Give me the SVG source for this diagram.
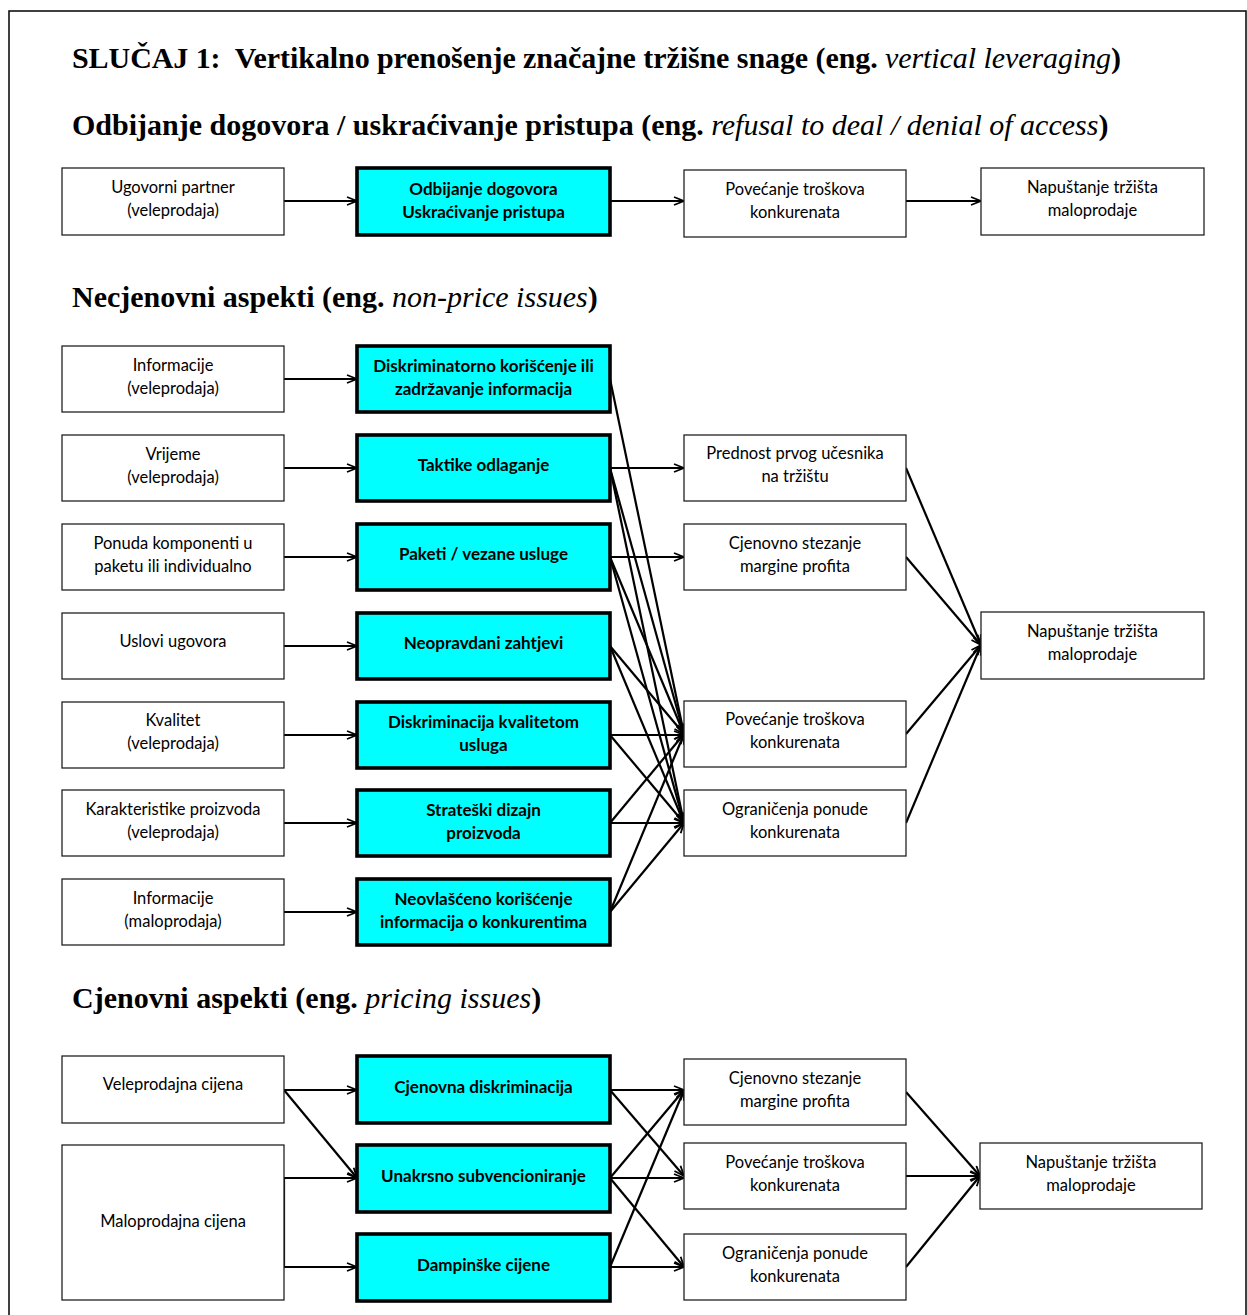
<svg xmlns="http://www.w3.org/2000/svg" width="1247" height="1315" viewBox="0 0 1247 1315">
<style>
.h{font-family:"Liberation Serif","Times New Roman",serif;font-size:30px;font-weight:bold;fill:#000}
.h .i{font-style:italic;font-weight:normal}
.b rect{fill:#fff;stroke:#222;stroke-width:1.3}
.c rect{fill:#00ffff;stroke:#000;stroke-width:3.6}
.b text{font-family:Lato,"Open Sans",sans-serif;font-size:16.5px;fill:#000;text-anchor:middle}
.c text{font-family:Lato,"Open Sans",sans-serif;font-size:17px;font-weight:bold;fill:#000;text-anchor:middle}
#connectors path{fill:none;stroke:#000;stroke-width:2.2}
</style>
<defs>
<marker id="ah" markerUnits="userSpaceOnUse" markerWidth="12" markerHeight="10" refX="11" refY="5" orient="auto" viewBox="0 0 12 10">
<path d="M1,1 L11,5 L1,9" fill="none" stroke="#000" stroke-width="1.8"/>
</marker>
</defs>
<rect x="9" y="11" width="1237" height="1330" fill="none" stroke="#111" stroke-width="1.6"/>
<g id="headings">
<text class="h" x="72" y="68" xml:space="preserve" textLength="1049" lengthAdjust="spacing">SLUČAJ 1:  Vertikalno prenošenje značajne tržišne snage (eng. <tspan class="i">vertical leveraging</tspan>)</text>
<text class="h" x="72" y="135">Odbijanje dogovora / uskraćivanje pristupa (eng. <tspan class="i">refusal to deal / denial of access</tspan>)</text>
<text class="h" x="72" y="307">Necjenovni aspekti (eng. <tspan class="i">non-price issues</tspan>)</text>
<text class="h" x="72" y="1008">Cjenovni aspekti (eng. <tspan class="i">pricing issues</tspan>)</text>
</g>
<g id="connectors">
<path d="M284,201 H357" marker-end="url(#ah)"/>
<path d="M610,201 H684" marker-end="url(#ah)"/>
<path d="M906,201 H981" marker-end="url(#ah)"/>
<path d="M284,379 H357" marker-end="url(#ah)"/>
<path d="M284,468 H357" marker-end="url(#ah)"/>
<path d="M284,557 H357" marker-end="url(#ah)"/>
<path d="M284,646 H357" marker-end="url(#ah)"/>
<path d="M284,735 H357" marker-end="url(#ah)"/>
<path d="M284,823 H357" marker-end="url(#ah)"/>
<path d="M284,912 H357" marker-end="url(#ah)"/>
<path d="M610,379 L684,734" marker-end="url(#ah)"/>
<path d="M610,468 H684" marker-end="url(#ah)"/>
<path d="M610,468 L684,734" marker-end="url(#ah)"/>
<path d="M610,468 L684,823" marker-end="url(#ah)"/>
<path d="M610,557 H684" marker-end="url(#ah)"/>
<path d="M610,557 L684,734" marker-end="url(#ah)"/>
<path d="M610,557 L684,823" marker-end="url(#ah)"/>
<path d="M610,646 L684,734" marker-end="url(#ah)"/>
<path d="M610,646 L684,823" marker-end="url(#ah)"/>
<path d="M610,735 H684" marker-end="url(#ah)"/>
<path d="M610,735 L684,823" marker-end="url(#ah)"/>
<path d="M610,823 H684" marker-end="url(#ah)"/>
<path d="M610,823 L684,734" marker-end="url(#ah)"/>
<path d="M610,912 L684,734" marker-end="url(#ah)"/>
<path d="M610,912 L684,823" marker-end="url(#ah)"/>
<path d="M906,468 L981,645" marker-end="url(#ah)"/>
<path d="M906,557 L981,645" marker-end="url(#ah)"/>
<path d="M906,734 L981,645" marker-end="url(#ah)"/>
<path d="M906,823 L981,645" marker-end="url(#ah)"/>
<path d="M284,1090 H357" marker-end="url(#ah)"/>
<path d="M284,1090 L357,1178" marker-end="url(#ah)"/>
<path d="M284,1223 V1178 H357" marker-end="url(#ah)"/>
<path d="M284,1223 V1267 H357" marker-end="url(#ah)"/>
<path d="M610,1090 H684" marker-end="url(#ah)"/>
<path d="M610,1090 L684,1176" marker-end="url(#ah)"/>
<path d="M610,1178 L684,1090" marker-end="url(#ah)"/>
<path d="M610,1178 H684" marker-end="url(#ah)"/>
<path d="M610,1178 L684,1267" marker-end="url(#ah)"/>
<path d="M610,1267 L684,1090" marker-end="url(#ah)"/>
<path d="M610,1267 H684" marker-end="url(#ah)"/>
<path d="M906,1092 L980,1176" marker-end="url(#ah)"/>
<path d="M906,1176 H980" marker-end="url(#ah)"/>
<path d="M906,1267 L980,1176" marker-end="url(#ah)"/>
</g>
<g id="n_ugovorni" class="b"><rect x="62" y="168" width="222" height="67"/><text x="173" y="193">Ugovorni partner</text><text x="173" y="216">(veleprodaja)</text></g>
<g id="n_odbijanje" class="c"><rect x="357" y="168" width="253" height="67"/><text x="483.5" y="195">Odbijanje dogovora</text><text x="483.5" y="218">Uskraćivanje pristupa</text></g>
<g id="n_povecanje_1" class="b"><rect x="684" y="170" width="222" height="67"/><text x="795" y="195">Povećanje troškova</text><text x="795" y="218">konkurenata</text></g>
<g id="n_napustanje_1" class="b"><rect x="981" y="168" width="223" height="67"/><text x="1092.5" y="193">Napuštanje tržišta</text><text x="1092.5" y="216">maloprodaje</text></g>

<g id="n_informacije_v" class="b"><rect x="62" y="346" width="222" height="66"/><text x="173" y="371">Informacije</text><text x="173" y="394">(veleprodaja)</text></g>
<g id="n_vrijeme" class="b"><rect x="62" y="435" width="222" height="66"/><text x="173" y="460">Vrijeme</text><text x="173" y="483">(veleprodaja)</text></g>
<g id="n_ponuda" class="b"><rect x="62" y="524" width="222" height="66"/><text x="173" y="549">Ponuda komponenti u</text><text x="173" y="572">paketu ili individualno</text></g>
<g id="n_uslovi" class="b"><rect x="62" y="613" width="222" height="66"/><text x="173" y="647">Uslovi ugovora</text></g>
<g id="n_kvalitet" class="b"><rect x="62" y="702" width="222" height="66"/><text x="173" y="726">Kvalitet</text><text x="173" y="749">(veleprodaja)</text></g>
<g id="n_karakteristike" class="b"><rect x="62" y="790" width="222" height="66"/><text x="173" y="815">Karakteristike proizvoda</text><text x="173" y="838">(veleprodaja)</text></g>
<g id="n_informacije_m" class="b"><rect x="62" y="879" width="222" height="66"/><text x="173" y="904">Informacije</text><text x="173" y="927">(maloprodaja)</text></g>

<g id="n_diskriminatorno" class="c"><rect x="357" y="346" width="253" height="66"/><text x="483.5" y="372">Diskriminatorno korišćenje ili</text><text x="483.5" y="395">zadržavanje informacija</text></g>
<g id="n_taktike" class="c"><rect x="357" y="435" width="253" height="66"/><text x="483.5" y="471">Taktike odlaganje</text></g>
<g id="n_paketi" class="c"><rect x="357" y="524" width="253" height="66"/><text x="483.5" y="560">Paketi / vezane usluge</text></g>
<g id="n_neopravdani" class="c"><rect x="357" y="613" width="253" height="66"/><text x="483.5" y="649">Neopravdani zahtjevi</text></g>
<g id="n_diskriminacija_kv" class="c"><rect x="357" y="702" width="253" height="66"/><text x="483.5" y="728">Diskriminacija kvalitetom</text><text x="483.5" y="751">usluga</text></g>
<g id="n_strateski" class="c"><rect x="357" y="790" width="253" height="66"/><text x="483.5" y="816">Strateški dizajn</text><text x="483.5" y="839">proizvoda</text></g>
<g id="n_neovlasceno" class="c"><rect x="357" y="879" width="253" height="66"/><text x="483.5" y="905">Neovlašćeno korišćenje</text><text x="483.5" y="928">informacija o konkurentima</text></g>

<g id="n_prednost" class="b"><rect x="684" y="435" width="222" height="66"/><text x="795" y="459">Prednost prvog učesnika</text><text x="795" y="482">na tržištu</text></g>
<g id="n_cjenovno_2" class="b"><rect x="684" y="524" width="222" height="66"/><text x="795" y="549">Cjenovno stezanje</text><text x="795" y="572">margine profita</text></g>
<g id="n_povecanje_2" class="b"><rect x="684" y="701" width="222" height="66"/><text x="795" y="725">Povećanje troškova</text><text x="795" y="748">konkurenata</text></g>
<g id="n_ogranicenja_2" class="b"><rect x="684" y="790" width="222" height="66"/><text x="795" y="815">Ograničenja ponude</text><text x="795" y="838">konkurenata</text></g>
<g id="n_napustanje_2" class="b"><rect x="981" y="612" width="223" height="67"/><text x="1092.5" y="637">Napuštanje tržišta</text><text x="1092.5" y="660">maloprodaje</text></g>

<g id="n_veleprodajna" class="b"><rect x="62" y="1056" width="222" height="67"/><text x="173" y="1090">Veleprodajna cijena</text></g>
<g id="n_maloprodajna" class="b"><rect x="62" y="1145" width="222" height="155"/><text x="173" y="1227">Maloprodajna cijena</text></g>
<g id="n_cjenovna_disk" class="c"><rect x="357" y="1056" width="253" height="67"/><text x="483.5" y="1093">Cjenovna diskriminacija</text></g>
<g id="n_unakrsno" class="c"><rect x="357" y="1145" width="253" height="67"/><text x="483.5" y="1182">Unakrsno subvencioniranje</text></g>
<g id="n_dampinske" class="c"><rect x="357" y="1234" width="253" height="67"/><text x="483.5" y="1271">Dampinške cijene</text></g>
<g id="n_cjenovno_3" class="b"><rect x="684" y="1059" width="222" height="66"/><text x="795" y="1084">Cjenovno stezanje</text><text x="795" y="1107">margine profita</text></g>
<g id="n_povecanje_3" class="b"><rect x="684" y="1143" width="222" height="66"/><text x="795" y="1168">Povećanje troškova</text><text x="795" y="1191">konkurenata</text></g>
<g id="n_ogranicenja_3" class="b"><rect x="684" y="1234" width="222" height="66"/><text x="795" y="1259">Ograničenja ponude</text><text x="795" y="1282">konkurenata</text></g>
<g id="n_napustanje_3" class="b"><rect x="980" y="1143" width="222" height="66"/><text x="1091" y="1168">Napuštanje tržišta</text><text x="1091" y="1191">maloprodaje</text></g>
</svg>
